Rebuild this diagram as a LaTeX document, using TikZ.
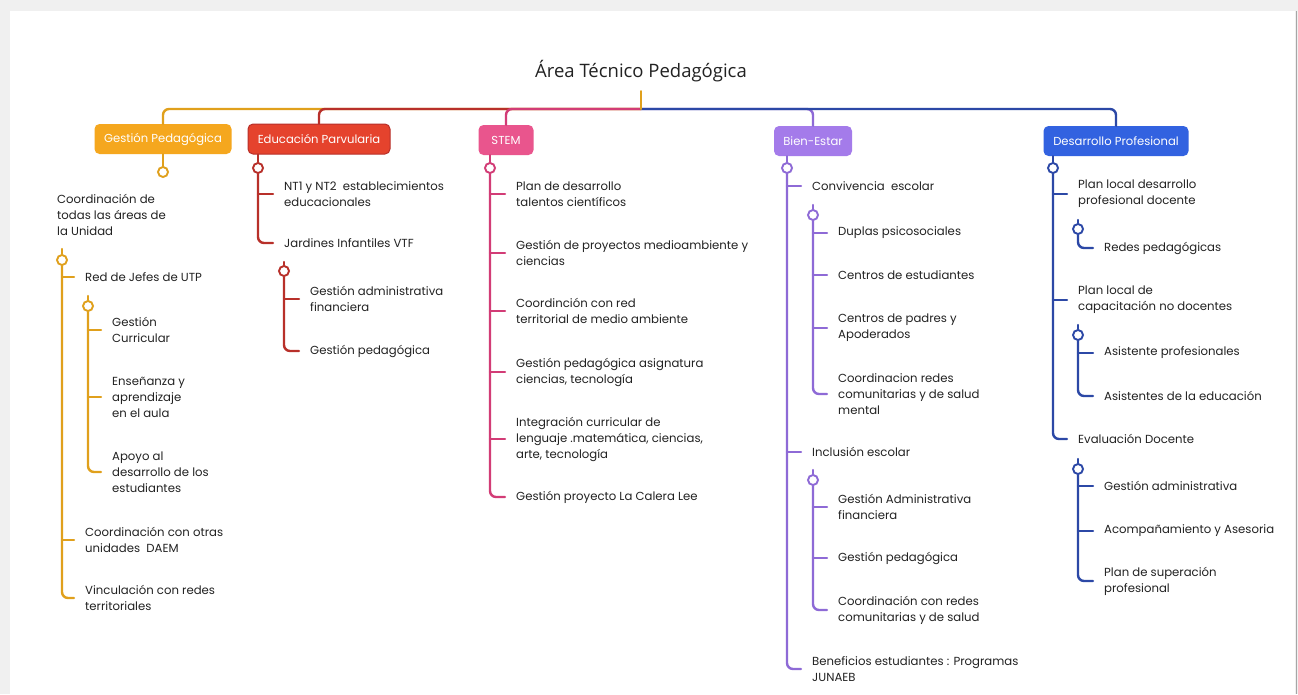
\documentclass[tikz,border=0pt]{standalone}
\usepackage{fontspec}
\setmainfont{Poppins}
\newfontfamily\titlefont{Open Sans}
\definecolor{cOr}{HTML}{E0A01C}
\definecolor{bOr}{HTML}{F5A71E}
\definecolor{cRd}{HTML}{B8302A}
\definecolor{bRd}{HTML}{E5432D}
\definecolor{cPk}{HTML}{D23C76}
\definecolor{bPk}{HTML}{E9558D}
\definecolor{cPu}{HTML}{8E6AD6}
\definecolor{bPu}{HTML}{A47BEA}
\definecolor{cBl}{HTML}{2C48A6}
\definecolor{bBl}{HTML}{3262E0}
\definecolor{txtc}{HTML}{222222}
\newcommand{\txtfont}{\fontsize{11.7}{16}\selectfont}
\newcommand{\boxfont}{\fontsize{11.6}{13}\selectfont}
\tikzset{
 ln/.style={line width=2.4pt, line cap=round, rounded corners=6pt},
 knob/.style={circle, draw, line width=1.9pt, fill=white, minimum size=10pt, inner sep=0pt},
 box/.style={rounded corners=5pt, minimum height=30pt, text=white, font=\boxfont, inner sep=0pt},
 txt/.style={anchor=west, align=left, inner sep=0pt, font=\txtfont, text=txtc},
}
\begin{document}
\begin{tikzpicture}[x=1pt,y=-1pt]
\useasboundingbox (0,0) rectangle (1298,694);
\fill[black!6] (0,0) rectangle (1298,694);
\fill[white] (10,11) rectangle (1295,694);
\draw[black!35, line width=1pt] (1296,11) -- (1296,694);

% title and hub
\node[font=\titlefont\fontsize{18.5}{20}\selectfont, text=txtc, minimum height=40pt, inner sep=0pt] (title) at (641,71) {Área Técnico Pedagógica};
\coordinate (hub) at (641,109);

% boxes
\node[box, fill=bOr, minimum width=137pt] (gp) at (163,139) {Gestión Pedagógica};
\node[box, fill=bRd, draw=cRd, line width=1pt, minimum width=142pt] (ep) at (319,139) {Educación Parvularia};
\node[box, fill=bPk, minimum width=55pt] (st) at (506,140) {STEM};
\node[box, fill=bPu, minimum width=78pt] (be) at (813,141) {Bien-Estar};
\node[box, fill=bBl, minimum width=145pt] (dp) at (1116,141) {Desarrollo Profesional};

% hub lines (drawn far to near)
\draw[ln, cOr] (hub) -| (gp.north);
\draw[ln, cRd] (hub) -| (ep.north);
\draw[ln, cPk] (hub) -| (st.north);
\draw[ln, cPu] (hub) -| (be.north);
\draw[ln, cBl] (hub) -| (dp.north);
\draw[ln, cOr] (title.south) -- (hub);

% ---------- Column 1: Gestión Pedagógica ----------
\node[knob, draw=cOr] (gk) at (163,172) {};
\draw[ln, cOr] (gp.south) -- (gk.north);
\node[txt] (g0) at (57,215) {Coordinación de\\todas las áreas de\\la Unidad};
\coordinate (gat) at (62,249);
\node[knob, draw=cOr] (ga) at (62,260) {};
\node[txt] (g1) at (85,277) {Red de Jefes de UTP};
\coordinate (gbt) at (88,296);
\node[knob, draw=cOr] (gb) at (88,306) {};
\node[txt] (g11) at (112,330) {Gestión\\Curricular};
\node[txt] (g12) at (112,397) {Enseñanza y\\aprendizaje\\en el aula};
\node[txt] (g13) at (112,472) {Apoyo al\\desarrollo de los\\estudiantes};
\node[txt] (g2) at (85,540) {Coordinación con otras\\unidades\ \ DAEM};
\node[txt] (g3) at (85,598) {Vinculación con redes\\territoriales};
\draw[ln, cOr] (gat) -- (ga.north);
\draw[ln, cOr] (ga.south) |- ([xshift=-11pt]g3.west);
\draw[ln, cOr] (ga.south |- g1.west) -- ([xshift=-11pt]g1.west);
\draw[ln, cOr] (ga.south |- g2.west) -- ([xshift=-11pt]g2.west);
\draw[ln, cOr] (gbt) -- (gb.north);
\draw[ln, cOr] (gb.south) |- ([xshift=-11pt]g13.west);
\draw[ln, cOr] (gb.south |- g11.west) -- ([xshift=-11pt]g11.west);
\draw[ln, cOr] (gb.south |- g12.west) -- ([xshift=-11pt]g12.west);

% ---------- Column 2: Educación Parvularia ----------
\node[knob, draw=cRd] (ek) at (258,168) {};
\draw[ln, cRd] (ek.north |- ep.south) -- (ek.north);
\node[txt] (e1) at (284,194) {NT1 y NT2\ \ establecimientos\\educacionales};
\node[txt] (e2) at (284,243) {Jardines Infantiles VTF};
\coordinate (ebt) at (284,262);
\node[knob, draw=cRd] (eb) at (284,271) {};
\node[txt] (e21) at (310,299) {Gestión administrativa\\financiera};
\node[txt] (e22) at (310,351) {Gestión pedagógica};
\draw[ln, cRd] (ek.south) |- ([xshift=-11pt]e2.west);
\draw[ln, cRd] (ek.south |- e1.west) -- ([xshift=-11pt]e1.west);
\draw[ln, cRd] (ebt) -- (eb.north);
\draw[ln, cRd] (eb.south) |- ([xshift=-11pt]e22.west);
\draw[ln, cRd] (eb.south |- e21.west) -- ([xshift=-11pt]e21.west);

% ---------- Column 3: STEM ----------
\node[knob, draw=cPk] (sk) at (490,168) {};
\draw[ln, cPk] (sk.north |- st.south) -- (sk.north);
\node[txt] (s1) at (516,194) {Plan de desarrollo\\talentos científicos};
\node[txt] (s2) at (516,253) {Gestión de proyectos medioambiente y\\ciencias};
\node[txt] (s3) at (516,311) {Coordinción con red\\territorial de medio ambiente};
\node[txt] (s4) at (516,372) {Gestión pedagógica asignatura\\ciencias, tecnología};
\node[txt] (s5) at (516,439) {Integración curricular de\\lenguaje .matemática, ciencias,\\arte, tecnología};
\node[txt] (s6) at (516,497) {Gestión proyecto La Calera Lee};
\draw[ln, cPk] (sk.south) |- ([xshift=-11pt]s6.west);
\foreach \n in {s1,s2,s3,s4,s5}
  \draw[ln, cPk] (sk.south |- \n.west) -- ([xshift=-11pt]\n.west);

% ---------- Column 4: Bien-Estar ----------
\node[knob, draw=cPu] (bk) at (787,168) {};
\draw[ln, cPu] (bk.north |- be.south) -- (bk.north);
\node[txt] (b1) at (812,186) {Convivencia\ \ escolar};
\coordinate (bbt) at (813,205);
\node[knob, draw=cPu] (bb) at (813,215) {};
\node[txt] (b11) at (838,233) {Duplas psicosociales};
\node[txt] (b12) at (838,275) {Centros de estudiantes};
\node[txt] (b13) at (838,328) {Centros de padres y\\Apoderados};
\node[txt] (b14) at (838,394) {Coordinacion redes\\comunitarias y de salud\\mental};
\node[txt] (b2) at (812,452) {Inclusión escolar};
\coordinate (bct) at (813,470);
\node[knob, draw=cPu] (bc) at (813,480) {};
\node[txt] (b21) at (838,507) {Gestión Administrativa\\financiera};
\node[txt] (b22) at (838,558) {Gestión pedagógica};
\node[txt] (b23) at (838,610) {Coordinación con redes\\comunitarias y de salud};
\node[txt] (b3) at (812,669) {Beneficios estudiantes : Programas\\JUNAEB};
\draw[ln, cPu] (bk.south) |- ([xshift=-11pt]b3.west);
\foreach \n in {b1,b2}
  \draw[ln, cPu] (bk.south |- \n.west) -- ([xshift=-11pt]\n.west);
\draw[ln, cPu] (bbt) -- (bb.north);
\draw[ln, cPu] (bb.south) |- ([xshift=-11pt]b14.west);
\foreach \n in {b11,b12,b13}
  \draw[ln, cPu] (bb.south |- \n.west) -- ([xshift=-11pt]\n.west);
\draw[ln, cPu] (bct) -- (bc.north);
\draw[ln, cPu] (bc.south) |- ([xshift=-11pt]b23.west);
\foreach \n in {b21,b22}
  \draw[ln, cPu] (bc.south |- \n.west) -- ([xshift=-11pt]\n.west);

% ---------- Column 5: Desarrollo Profesional ----------
\node[knob, draw=cBl] (dk) at (1053,168) {};
\draw[ln, cBl] (dk.north |- dp.south) -- (dk.north);
\node[txt] (d1) at (1078,194) {Plan local desarrollo\\profesional docente};
\coordinate (dbt) at (1078,220);
\node[knob, draw=cBl] (db) at (1078,229) {};
\node[txt] (d11) at (1104,248) {Redes pedagógicas};
\node[txt] (d2) at (1078,300) {Plan local de\\capacitación no docentes};
\coordinate (dct) at (1078,325);
\node[knob, draw=cBl] (dc) at (1078,335) {};
\node[txt] (d21) at (1104,353) {Asistente profesionales};
\node[txt] (d22) at (1104,396) {Asistentes de la educación};
\node[txt] (d3) at (1078,439) {Evaluación Docente};
\coordinate (ddt) at (1078,459);
\node[knob, draw=cBl] (dd) at (1078,469) {};
\node[txt] (d31) at (1104,486) {Gestión administrativa};
\node[txt] (d32) at (1104,531) {Acompañamiento y Asesoria};
\node[txt] (d33) at (1104,581) {Plan de superación\\profesional};
\draw[ln, cBl] (dk.south) |- ([xshift=-11pt]d3.west);
\foreach \n in {d1,d2}
  \draw[ln, cBl] (dk.south |- \n.west) -- ([xshift=-11pt]\n.west);
\draw[ln, cBl] (dbt) -- (db.north);
\draw[ln, cBl] (db.south) |- ([xshift=-11pt]d11.west);
\draw[ln, cBl] (dct) -- (dc.north);
\draw[ln, cBl] (dc.south) |- ([xshift=-11pt]d22.west);
\draw[ln, cBl] (dc.south |- d21.west) -- ([xshift=-11pt]d21.west);
\draw[ln, cBl] (ddt) -- (dd.north);
\draw[ln, cBl] (dd.south) |- ([xshift=-11pt]d33.west);
\foreach \n in {d31,d32}
  \draw[ln, cBl] (dd.south |- \n.west) -- ([xshift=-11pt]\n.west);
\end{tikzpicture}
\end{document}
